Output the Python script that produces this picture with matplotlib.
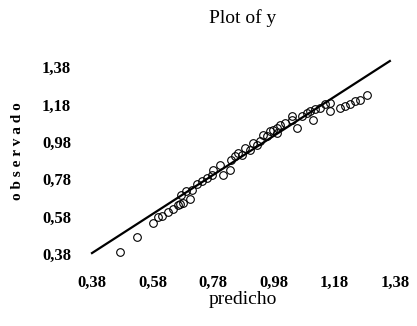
import matplotlib.pyplot as plt

predicho = [0.472, 0.527, 0.580, 0.599, 0.610, 0.632, 0.648, 0.663, 0.670, 0.681,
            0.673, 0.703, 0.690, 0.709, 0.725, 0.742, 0.758, 0.775, 0.780, 0.802,
            0.813, 0.835, 0.840, 0.851, 0.862, 0.874, 0.885, 0.901, 0.912, 0.924,
            0.935, 0.946, 0.957, 0.968, 0.979, 0.990, 0.990, 1.001, 1.018, 1.040,
            1.040, 1.056, 1.073, 1.089, 1.100, 1.111, 1.117, 1.133, 1.150, 1.164,
            1.164, 1.197, 1.216, 1.232, 1.249, 1.265, 1.287]
observado = [0.392, 0.473, 0.546, 0.578, 0.582, 0.605, 0.623, 0.641, 0.650, 0.653,
             0.694, 0.676, 0.716, 0.721, 0.757, 0.768, 0.785, 0.803, 0.830, 0.856,
             0.803, 0.831, 0.885, 0.903, 0.920, 0.911, 0.947, 0.938, 0.973, 0.965,
             0.983, 1.018, 1.009, 1.036, 1.045, 1.054, 1.027, 1.071, 1.080, 1.098,
             1.117, 1.054, 1.116, 1.134, 1.143, 1.098, 1.153, 1.162, 1.180, 1.189,
             1.145, 1.162, 1.174, 1.180, 1.198, 1.206, 1.228]

# reference line endpoints
line_x = [0.38, 1.363]
line_y = [0.385, 1.412]

ticks = [0.38, 0.58, 0.78, 0.98, 1.18, 1.38]
tick_labels = ['0,38', '0,58', '0,78', '0,98', '1,18', '1,38']

fig = plt.figure(figsize=(4.17, 3.26), dpi=100)
ax = fig.add_axes([92 / 417, 72 / 326, 303 / 417, 187 / 326])

ax.plot(line_x, line_y, color='black', linewidth=1.6, clip_on=False)
ax.plot(predicho, observado, linestyle='none', marker='o', markersize=5.5,
        markerfacecolor='none', markeredgecolor='black', markeredgewidth=0.8,
        clip_on=False)

ax.set_xlim(0.38, 1.38)
ax.set_ylim(0.38, 1.38)
for s in ax.spines.values():
    s.set_visible(False)

tick_font = dict(family='Liberation Serif', weight='bold', size=12)
ax.set_xticks(ticks)
ax.set_xticklabels(tick_labels, fontdict=tick_font)
ax.set_yticks(ticks)
ax.set_yticklabels(tick_labels, fontdict=tick_font)
ax.tick_params(length=0)
ax.tick_params(axis='x', pad=15)
ax.tick_params(axis='y', pad=15)

fig.text(243 / 417, 1 - 18 / 326, 'Plot of y', ha='center', va='center',
         family='Liberation Serif', size=14)
fig.text(243 / 417, 1 - 299 / 326, 'predicho', ha='center', va='center',
         family='Liberation Serif', size=14)
fig.text(18 / 417, 1 - 151 / 326, 'o b s e r v a d o', ha='center', va='center',
         rotation=90, family='Liberation Serif', weight='bold', size=11)

fig.savefig('out.png', dpi=100)
